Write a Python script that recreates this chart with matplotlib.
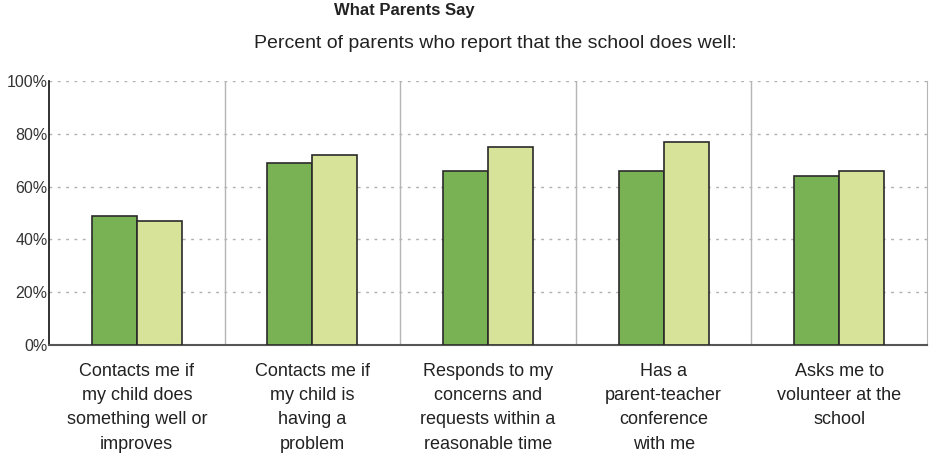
import numpy as np
import matplotlib as mpl
mpl.use('Agg')
from matplotlib import pyplot as plt

plt.rcParams['font.family'] = ['Liberation Sans', 'DejaVu Sans']

#------------------- Data ----------------------
categories = ['Contacts me if\nmy child does\nsomething well or\nimproves',
              'Contacts me if\nmy child is\nhaving a\nproblem',
              'Responds to my\nconcerns and\nrequests within a\nreasonable time',
              'Has a\nparent-teacher\nconference\nwith me',
              'Asks me to\nvolunteer at the\nschool']
series_a = [49, 69, 66, 66, 64]
series_b = [47, 72, 75, 77, 66]
yticks = [0, 20, 40, 60, 80, 100]
ytick_labels = ['0%', '20%', '40%', '60%', '80%', '100%']

fig = plt.figure(figsize=(9.36, 4.67), dpi=100)
ax = fig.add_axes([49/936, 1-345/467, 878/936, 264/467])

x = np.arange(len(categories))
w = 0.256
ax.bar(x - w/2, series_a, width=w, color='#78b255', edgecolor='#2a2a2a', linewidth=1.2, zorder=3)
ax.bar(x + w/2, series_b, width=w, color='#d7e399', edgecolor='#2a2a2a', linewidth=1.2, zorder=3)

ax.set_xlim(-0.5, len(categories) - 0.5)
ax.set_ylim(0, 100)
ax.set_yticks(yticks)
ax.set_yticklabels(ytick_labels, fontsize=11.5, color='#333333')
ax.tick_params(axis='y', length=0, pad=1)
ax.set_xticks(x)
ax.set_xticklabels(categories, fontsize=13, color='#222222', linespacing=1.55, va='top')
ax.tick_params(axis='x', length=0, pad=13)

for yy in yticks[1:]:
    ax.axhline(yy, color='#b0b0b0', linestyle=(0, (2, 4)), linewidth=1.0, zorder=1)
for xx in np.arange(0.5, len(categories) - 0.5, 1.0):
    ax.axvline(xx, color='#b5b5b5', linewidth=1.0, zorder=1)

ax.spines['top'].set_visible(False)
ax.spines['right'].set_color('#b5b5b5')
ax.spines['left'].set_color('#222222')
ax.spines['left'].set_linewidth(1.3)
ax.spines['bottom'].set_color('#555555')
ax.spines['bottom'].set_linewidth(1.5)

fig.text(404/936, 1-11/467, 'What Parents Say', ha='center', va='center',
         fontsize=12, fontweight='bold', color='#222222')
fig.text(495/936, 1-44/467, 'Percent of parents who report that the school does well:',
         ha='center', va='center', fontsize=14, color='#222222')

plt.savefig('out.png', dpi=100)
